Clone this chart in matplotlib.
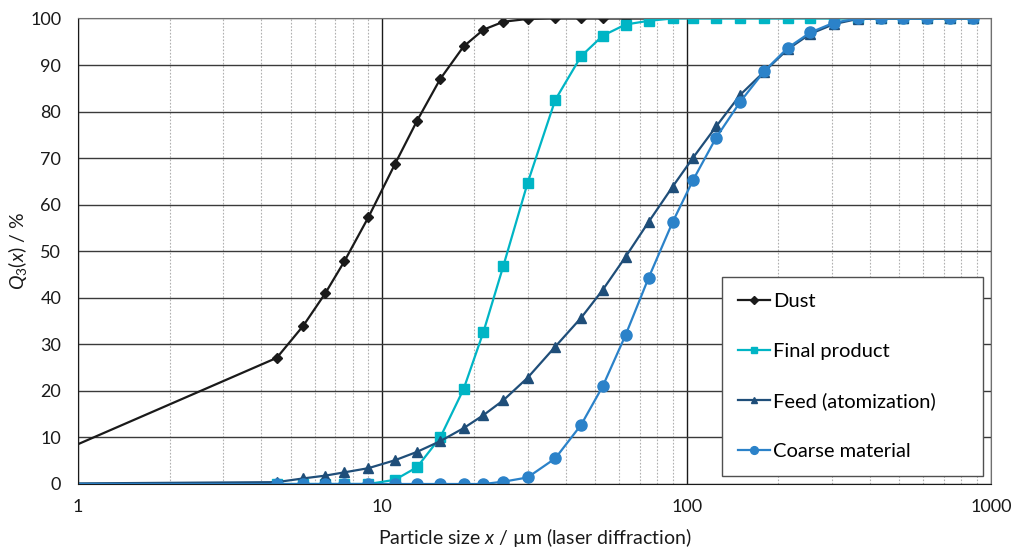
import matplotlib
matplotlib.use('Agg')
from matplotlib import pyplot as plt
from matplotlib.ticker import FixedLocator, NullFormatter

plt.rcParams['font.family'] = ['Lato', 'DejaVu Sans']
plt.rcParams['mathtext.fontset'] = 'custom'
plt.rcParams['mathtext.rm'] = 'Lato'
plt.rcParams['mathtext.it'] = 'Lato:italic'

# class limits of the laser diffraction (um)
sizes = [0.5, 4.5, 5.5, 6.5, 7.5, 9, 11, 13, 15.5, 18.5, 21.5, 25, 30, 37, 45, 53, 63, 75,
         90, 105, 125, 150, 180, 215, 255, 305, 365, 435, 515, 615, 735, 875]

dust = [0, 27.1, 34.0, 41.0, 47.8, 57.3, 68.7, 78.0, 87.0, 94.0, 97.6, 99.3, 99.9,
        100, 100, 100, 100, 100]
final_product = [0, 0, 0, 0, 0, 0, 0.9, 3.6, 10.0, 20.4, 32.7, 46.9, 64.6, 82.5, 91.9,
                 96.3, 98.7, 99.5, 100, 100, 100, 100, 100, 100, 100, 100, 100, 100,
                 100, 100, 100, 100]
feed = [0, 0.4, 1.2, 1.8, 2.5, 3.4, 5.1, 6.9, 9.2, 12.0, 14.8, 18.0, 22.8, 29.5, 35.7,
        41.7, 48.8, 56.3, 63.9, 70.1, 76.8, 83.6, 88.6, 93.4, 96.7, 98.8, 99.9, 100,
        100, 100, 100, 100]
coarse = [0, 0, 0, 0, 0, 0, 0, 0, 0, 0, 0, 0.5, 1.4, 5.5, 12.7, 21.0, 32.0, 44.3, 56.3,
          65.3, 74.4, 82.1, 88.7, 93.7, 97.0, 99.1, 100, 100, 100, 100, 100, 100]

labels = ['Dust', 'Final product', 'Feed (atomization)', 'Coarse material']

fig = plt.figure(figsize=(10.14, 5.5), dpi=100)
ax = fig.add_axes([0.0769, 0.12, 0.9004, 0.8464])

ax.plot(sizes[:len(dust)], dust, color='#1a1a1a', lw=1.6, marker='D', ms=5.5, label=labels[0])
ax.plot(sizes, final_product, color='#00b5c5', lw=1.6, marker='s', ms=7, label=labels[1])
ax.plot(sizes, feed, color='#1f4e79', lw=1.6, marker='^', ms=6.5, label=labels[2])
ax.plot(sizes, coarse, color='#2b82c9', lw=1.6, marker='o', ms=8, label=labels[3])

ax.set_xscale('log')
ax.set_xlim(1, 1000)
ax.set_ylim(0, 100)
ax.set_yticks(range(0, 101, 10))
ax.set_xticks([1, 10, 100, 1000])
ax.set_xticklabels(['1', '10', '100', '1000'])
ax.xaxis.set_minor_locator(FixedLocator([m * d for d in (1, 10, 100) for m in range(2, 10)]))
ax.xaxis.set_minor_formatter(NullFormatter())
ax.tick_params(which='both', length=0, labelsize=13, colors='#1a1a1a', pad=12)
ax.tick_params(axis='x', pad=11)

ax.grid(True, which='major', axis='y', color='#3a3a3a', lw=1)
ax.grid(True, which='major', axis='x', color='#1a1a1a', lw=1)
ax.grid(True, which='minor', axis='x', color='#b0b0b0', lw=0.8, ls=(0, (1.5, 1.5)))
ax.set_axisbelow(True)

ax.spines['left'].set_color('#1a1a1a')
ax.spines['bottom'].set_color('#1a1a1a')
ax.spines['top'].set_color('#707070')
ax.spines['right'].set_color('#707070')

ax.set_xlabel('Particle size $x$ / µm (laser diffraction)', fontsize=14, color='#1a1a1a', labelpad=8)
ax.set_ylabel('$Q_3(x)$ / %', fontsize=14, color='#1a1a1a')
ax.yaxis.set_label_coords(-0.054, 0.5)

leg = ax.legend(loc='lower left', bbox_to_anchor=(0.705, 0.017, 0.286, 0.43), mode='expand',
                fontsize=14.5, frameon=True, fancybox=False, edgecolor='#505050',
                framealpha=1, labelspacing=1.62, borderpad=0.8, handlelength=1.6,
                handletextpad=0.15, markerscale=0.7, borderaxespad=0)
leg.get_frame().set_linewidth(1)

fig.savefig('out.png', dpi=100)
